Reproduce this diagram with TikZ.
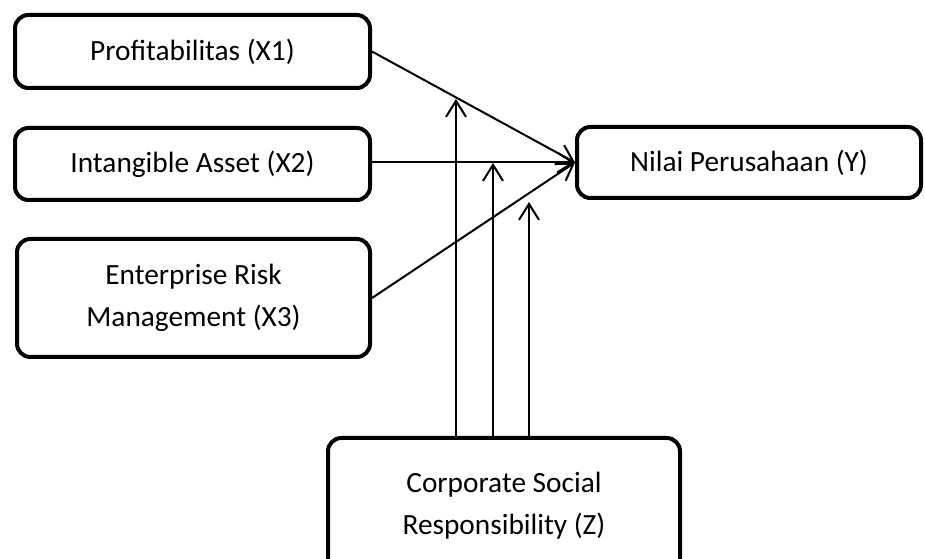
\documentclass[tikz,border=0pt]{standalone}
\usepackage{fontspec}
\setmainfont{Carlito}
\usetikzlibrary{arrows.meta}
\tikzset{
  varbox/.style={draw=black, line width=3pt, rounded corners=10pt, fill=white,
    align=center, inner sep=0pt,
    font=\fontsize{22}{31.5}\selectfont},
  conn/.style={line width=1.5pt, -{Straight Barb[length=12pt,width=15pt]}}
}
\begin{document}
\begin{tikzpicture}[x=0.75pt,y=-0.75pt]
\useasboundingbox (0,0) rectangle (925,559);
\node[varbox, minimum width=266.25pt, minimum height=54.75pt] (x1) at (192.5,51.5) {Profitabilitas (X1)};
\node[varbox, minimum width=266.25pt, minimum height=54pt] (x2) at (192.5,164) {Intangible Asset (X2)};
\node[varbox, minimum width=264.75pt, minimum height=88.5pt] (x3) at (193.5,298) {Enterprise Risk\\Management (X3)};
\node[varbox, minimum width=258pt, minimum height=53.25pt] (y) at (749,162.5) {Nilai Perusahaan (Y)};
\node[varbox, minimum width=264pt, minimum height=101.25pt] (z) at (504,505.5) {Corporate Social\\Responsibility (Z)};
\coordinate (t1) at (456,99);
\coordinate (t2) at (493,163);
\coordinate (t3) at (529,202);
\draw[conn] (x1.east) -- (y.west);
\draw[conn] (x2.east |- y.west) -- (y.west);
\draw[conn] (x3.east) -- (y.west);
\draw[conn] (z.north -| t1) -- (t1);
\draw[conn] (z.north -| t2) -- (t2);
\draw[conn] (z.north -| t3) -- (t3);
\end{tikzpicture}
\end{document}
